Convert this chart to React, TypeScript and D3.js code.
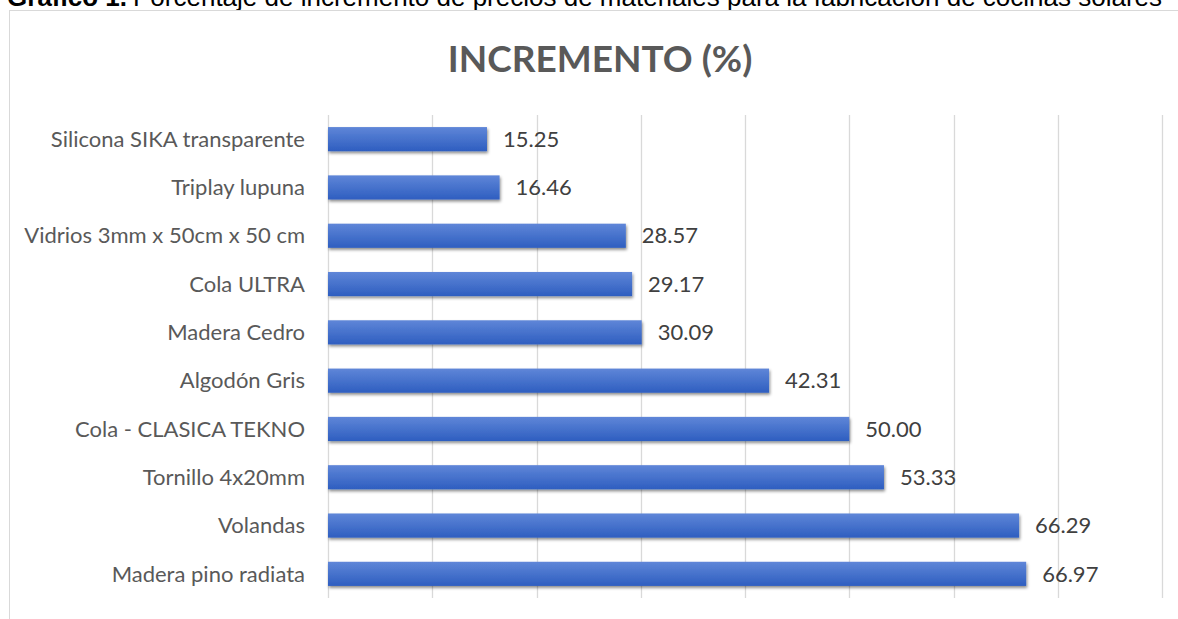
import React, { useEffect, useRef } from 'react';
import * as d3 from 'd3';

const categories = [
  'Silicona SIKA transparente',
  'Triplay lupuna',
  'Vidrios 3mm x 50cm x 50 cm',
  'Cola ULTRA',
  'Madera Cedro',
  'Algodón Gris',
  'Cola - CLASICA TEKNO',
  'Tornillo 4x20mm',
  'Volandas',
  'Madera pino radiata',
];
const values = [15.25, 16.46, 28.57, 29.17, 30.09, 42.31, 50.0, 53.33, 66.29, 66.97];
const xTicks = [0, 10, 20, 30, 40, 50, 60, 70, 80];

const W = 1178;
const H = 619;

const App = () => {
  const ref = useRef<SVGSVGElement>(null);

  useEffect(() => {
    const svg = d3.select(ref.current);
    svg.selectAll('*').remove();

    const defs = svg.append('defs');
    const grad = defs.append('linearGradient')
      .attr('id', 'barGrad')
      .attr('x1', 0).attr('y1', 0).attr('x2', 0).attr('y2', 1);
    grad.append('stop').attr('offset', '0%').attr('stop-color', '#5f86d8');
    grad.append('stop').attr('offset', '100%').attr('stop-color', '#2e5ec0');

    const shadow = defs.append('filter')
      .attr('id', 'shadow')
      .attr('x', '-5%').attr('y', '-30%').attr('width', '110%').attr('height', '180%');
    shadow.append('feDropShadow')
      .attr('dx', 1).attr('dy', 2).attr('stdDeviation', 1.8)
      .attr('flood-color', '#000').attr('flood-opacity', 0.45);

    // caption above the chart, cut off by the crop in the source
    svg.append('text')
      .attr('x', 127)
      .attr('y', 6)
      .attr('text-anchor', 'end')
      .attr('font-family', 'Liberation Sans, Arial, sans-serif')
      .attr('font-size', 26)
      .attr('font-weight', 'bold')
      .attr('fill', '#000')
      .text('Gráfico 1.');
    svg.append('text')
      .attr('x', 133)
      .attr('y', 6)
      .attr('font-family', 'Liberation Sans, Arial, sans-serif')
      .attr('font-size', 26)
      .attr('fill', '#000')
      .text('Porcentaje de incremento de precios de materiales para la fabricación de cocinas solares');

    // chart area border
    svg.append('rect')
      .attr('x', 9.5).attr('y', 10.5)
      .attr('width', 1200).attr('height', 640)
      .attr('fill', '#fff')
      .attr('stroke', '#d9d9d9')
      .attr('stroke-width', 1);

    svg.append('text')
      .attr('x', 600)
      .attr('y', 72)
      .attr('text-anchor', 'middle')
      .attr('font-family', 'Lato, sans-serif')
      .attr('font-weight', 'bold')
      .attr('font-size', 37)
      .attr('fill', '#595959')
      .text('INCREMENTO (%)');

    const x = d3.scaleLinear().domain([0, 80]).range([328, 1162]);
    const y = d3.scaleBand().domain(categories).range([115, 598]).paddingInner(0.5).paddingOuter(0.25);

    svg.append('g')
      .selectAll('line')
      .data(xTicks)
      .join('line')
      .attr('x1', d => Math.round(x(d)) + 0.5)
      .attr('x2', d => Math.round(x(d)) + 0.5)
      .attr('y1', 115)
      .attr('y2', 598)
      .attr('stroke', '#d9d9d9')
      .attr('stroke-width', 1.3);

    svg.append('g')
      .selectAll('rect')
      .data(values)
      .join('rect')
      .attr('x', x(0))
      .attr('y', (_, i) => y(categories[i])!)
      .attr('width', d => x(d) - x(0))
      .attr('height', y.bandwidth())
      .attr('fill', 'url(#barGrad)')
      .attr('filter', 'url(#shadow)');

    svg.append('g')
      .selectAll('text')
      .data(categories)
      .join('text')
      .attr('x', 305)
      .attr('y', d => y(d)! + y.bandwidth() / 2)
      .attr('dy', '0.35em')
      .attr('text-anchor', 'end')
      .attr('font-family', 'Lato, sans-serif')
      .attr('font-size', 22)
      .attr('fill', '#595959')
      .text(d => d);

    svg.append('g')
      .selectAll('text')
      .data(values)
      .join('text')
      .attr('x', d => x(d) + 16)
      .attr('y', (_, i) => y(categories[i])! + y.bandwidth() / 2)
      .attr('dy', '0.35em')
      .attr('font-family', 'Lato, sans-serif')
      .attr('font-size', 22)
      .attr('fill', '#404040')
      .text(d => d.toFixed(2));
  }, []);

  return (
    <svg
      ref={ref}
      width={W}
      height={H}
      style={{ position: 'absolute', left: 0, top: 0, background: '#fff' }}
    />
  );
};

export default App;
